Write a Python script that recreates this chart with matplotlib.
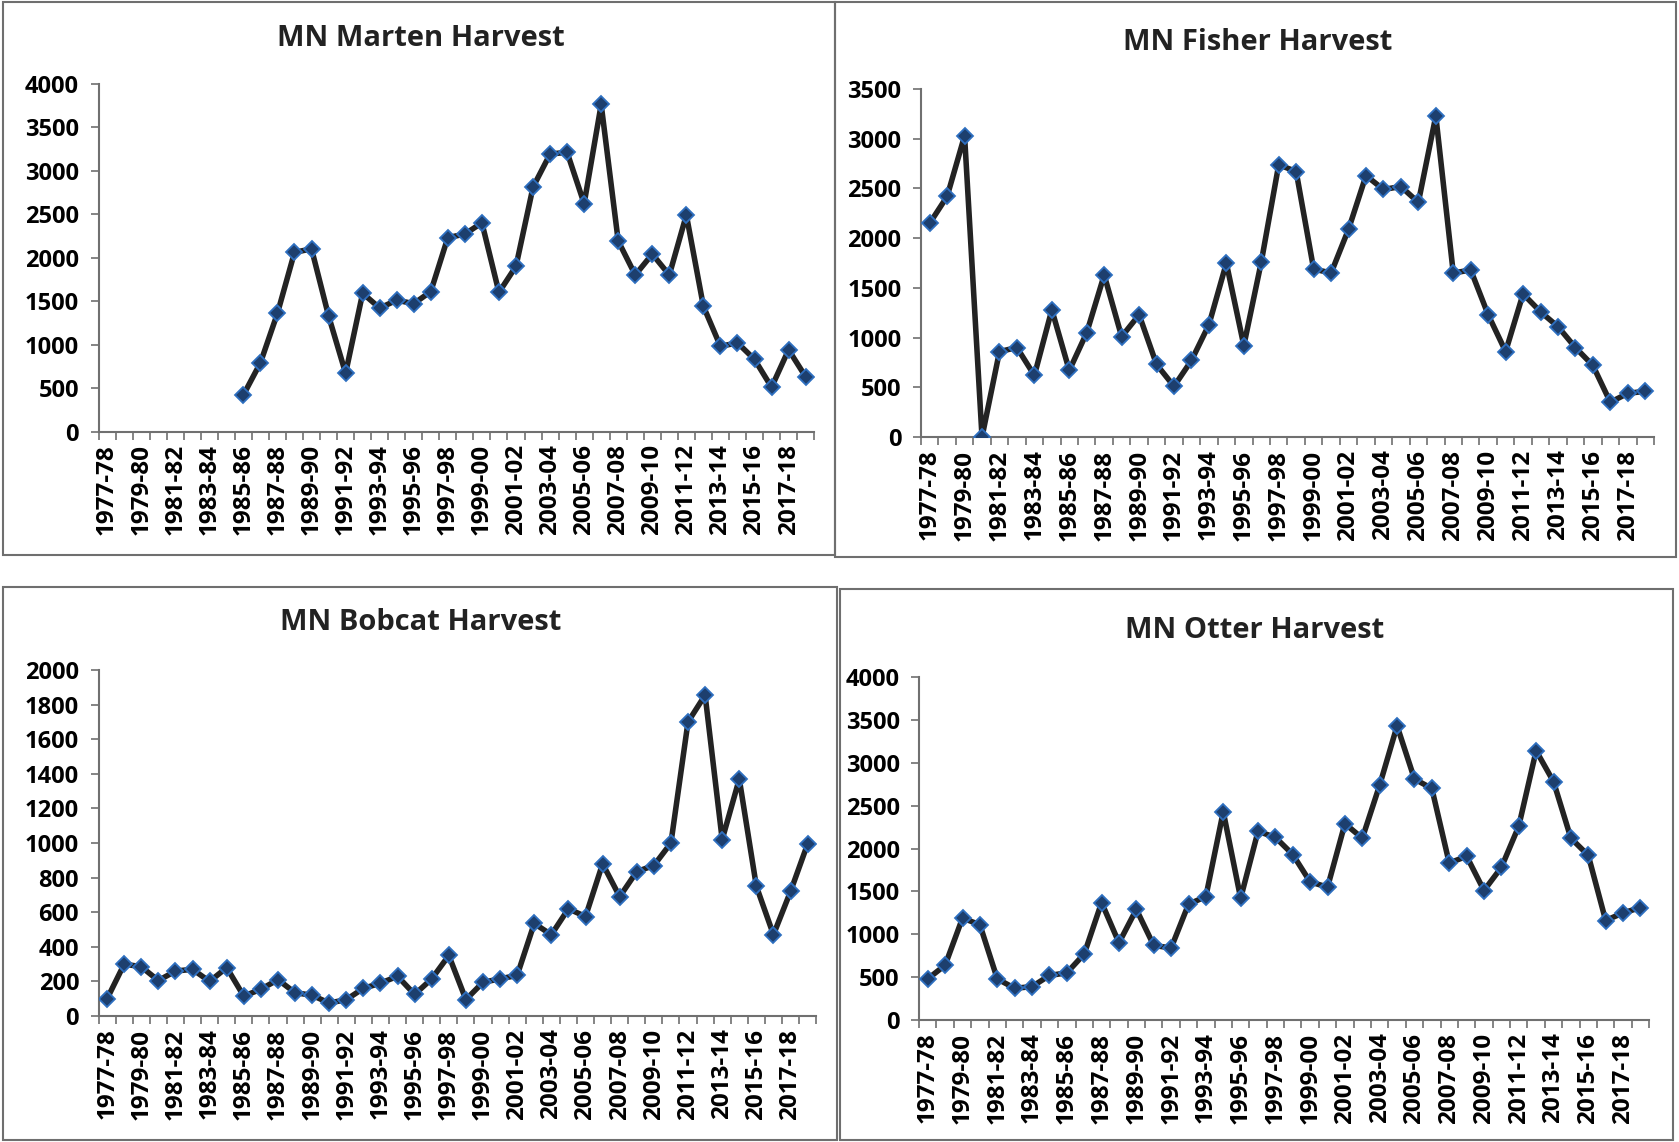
import matplotlib
matplotlib.use("Agg")
import matplotlib.pyplot as plt
import matplotlib.patches as patches
import numpy as np

seasons = ["%d-%02d" % (y, (y + 1) % 100) for y in range(1977, 2019)]

marten = [None] * 8 + [420, 790, 1360, 2060, 2100, 1330, 670, 1590, 1420, 1510,
                       1470, 1610, 2230, 2270, 2400, 1600, 1900, 2810, 3190, 3210,
                       2620, 3760, 2190, 1800, 2040, 1800, 2490, 1440, 980, 1020,
                       830, 510, 940, 630]
fisher = [2150, 2420, 3030, 0, 860, 900, 620, 1280, 670, 1050,
          1630, 1010, 1230, 730, 510, 770, 1130, 1750, 920, 1760,
          2740, 2670, 1690, 1650, 2090, 2630, 2490, 2520, 2360, 3230,
          1650, 1680, 1230, 860, 1440, 1260, 1110, 900, 720, 350,
          440, 460]
bobcat = [100, 300, 285, 205, 260, 270, 200, 280, 115, 155,
          210, 135, 120, 75, 95, 160, 190, 230, 125, 215,
          350, 95, 195, 215, 235, 535, 470, 620, 575, 880,
          690, 835, 870, 1000, 1700, 1855, 1020, 1370, 750, 470,
          720, 995]
otter = [480, 640, 1190, 1110, 480, 370, 390, 520, 550, 770,
         1370, 900, 1290, 870, 840, 1350, 1440, 2430, 1420, 2200,
         2130, 1930, 1610, 1550, 2290, 2120, 2740, 3430, 2810, 2700,
         1830, 1910, 1510, 1780, 2260, 3140, 2780, 2120, 1920, 1160,
         1250, 1310]

plt.rcParams['font.family'] = ['Open Sans', 'DejaVu Sans']
plt.rcParams['font.weight'] = 'bold'

W, H = 1679, 1142
fig = plt.figure(figsize=(W / 100, H / 100), dpi=100)
fig.patch.set_facecolor('white')

# panel boxes (pixels: x0, y0, x1, y1 from top-left)
boxes = [(3, 2, 835, 555), (835, 2, 1676, 557), (3, 587, 837, 1140), (840, 589, 1673, 1140)]
for x0, y0, x1, y1 in boxes:
    fig.patches.append(patches.Rectangle((x0 / W, 1 - y1 / H), (x1 - x0) / W, (y1 - y0) / H,
                                         transform=fig.transFigure, fill=False,
                                         edgecolor='#6f6f6f', linewidth=1.5))

panels = [
    ("MN Marten Harvest", marten, 4000, [0.0587, 0.6221, 0.4262, 0.3047], (421, 38)),
    ("MN Fisher Harvest", fisher, 3500, [0.5485, 0.6173, 0.4366, 0.3047], (1258, 43)),
    ("MN Bobcat Harvest", bobcat, 2000, [0.0587, 0.1103, 0.4274, 0.3030], (421, 623)),
    ("MN Otter Harvest", otter, 4000, [0.5474, 0.1068, 0.4348, 0.3004], (1255, 630)),
]

x = np.arange(len(seasons))
for title, vals, ymax, pos, tpos in panels:
    ax = fig.add_axes(pos)
    y = np.array([np.nan if v is None else v for v in vals], dtype=float)
    ax.plot(x, y, color='#232323', linewidth=4, marker='D', markersize=8,
            markerfacecolor='#1d3f6e', markeredgecolor='#2e6fc0', markeredgewidth=1.3,
            zorder=3)
    ax.set_xlim(-0.5, len(seasons) - 0.5)
    ax.set_ylim(0, ymax)
    step = 500 if ymax > 2000 else 200
    ax.set_yticks(np.arange(0, ymax + 1, step))
    ax.set_xticks(x[::2])
    ax.set_xticklabels(seasons[::2], rotation=90, fontsize=17.5, fontweight='bold')
    ax.set_xticks(np.arange(-0.5, len(seasons), 1), minor=True)
    ax.tick_params(axis='x', which='major', length=0, pad=9)
    ax.tick_params(axis='x', which='minor', length=6, width=1.2, color='#707070', direction='out')
    ax.tick_params(axis='y', length=6, width=1.2, color='#707070', labelsize=17, pad=8)
    for lab in ax.get_yticklabels():
        lab.set_fontweight('bold')
    for s in ['top', 'right']:
        ax.spines[s].set_visible(False)
    for s in ['left', 'bottom']:
        ax.spines[s].set_color('#707070')
        ax.spines[s].set_linewidth(1.5)
    fig.text(tpos[0] / W, 1 - tpos[1] / H, title, ha='center', va='center',
             fontsize=21, fontweight='bold', color='#222222')

fig.savefig('out.png', dpi=100, facecolor='white')
